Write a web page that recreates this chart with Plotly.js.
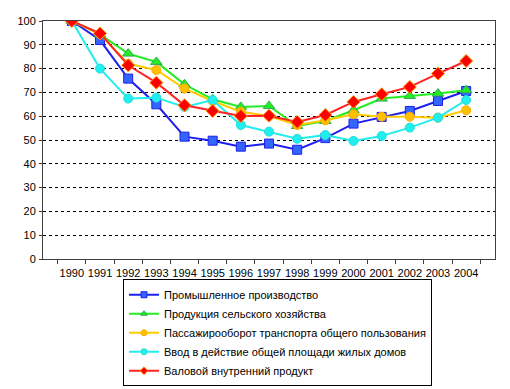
<!DOCTYPE html>
<html><head><meta charset="utf-8">
<script src="https://cdn.plot.ly/plotly-3.0.1.min.js"></script>
<style>body{margin:0;background:#fff}#chart{width:510px;height:389px}</style>
</head><body><div id="chart"></div>
<script>
const years = ['1990','1991','1992','1993','1994','1995','1996','1997','1998','1999','2000','2001','2002','2003','2004'];
const industry = [100,92,75.8,65,51.4,49.7,47.2,48.5,45.9,50.8,56.9,59.7,62.2,66.4,70.6];
const agriculture = [100,94.4,86.3,82.8,73.4,67.1,63.9,64.3,55.9,58,62.5,67.4,68.5,69.5,70.9];
const passenger = [100,94.5,82,79.4,71.6,66.4,61.9,60.1,56.3,58.3,60.8,59.8,59.8,59.4,62.5];
const housing = [100,80,67.4,67.8,63.9,66.8,56.3,53.5,50.5,52.1,49.6,51.7,55.2,59.4,66.8];
const gdp = [100,94.8,81.4,74.1,64.6,62.2,60.1,60.2,57.6,60.5,66,69.2,72.3,77.9,83.2];
const names = ['Промышленное производство','Продукция сельского хозяйства','Пассажирооборот транспорта общего пользования','Ввод в действие общей площади жилых домов','Валовой внутренний продукт'];

const styles = [
  {lc: '#1f1fee', sym: 'square', fc: '#3366ff', mlc: '#1f1fee', size: 9},
  {lc: '#22ee22', sym: 'triangle-up', fc: '#22ee22', mlc: '#33aa55', size: 10},
  {lc: '#ffcc00', sym: 'circle', fc: '#ffc000', mlc: '#ffaa00', size: 9},
  {lc: '#22eeee', sym: 'circle', fc: '#22eeee', mlc: '#22dddd', size: 9},
  {lc: '#ff2222', sym: 'diamond', fc: '#ff0000', mlc: '#ff9900', size: 10}
];
const series = [industry, agriculture, passenger, housing, gdp];
const data = [];
series.forEach((y, i) => {
  const s = styles[i];
  data.push({x: years, y: y, name: names[i], type: 'scatter', mode: 'lines+markers', showlegend: false,
    line: {color: s.lc, width: 2},
    marker: {symbol: s.sym, size: s.size, color: s.fc, line: {color: s.mlc, width: 1}}});
});
series.forEach((y, i) => {
  const s = styles[i];
  data.push({x: [years[0]], y: [null], name: names[i], type: 'scatter', mode: 'lines+markers', showlegend: true,
    line: {color: s.lc, width: 2},
    marker: {symbol: s.sym, size: 6, color: s.fc, line: {color: s.mlc, width: 1}}});
});
const layout = {
  width: 510, height: 389,
  margin: {l: 43, r: 15, t: 21, b: 130, autoexpand: false},
  paper_bgcolor: '#fff', plot_bgcolor: '#fff',
  font: {family: 'Liberation Sans, Arial, sans-serif', size: 11, color: '#000'},
  showlegend: true,
  legend: {x: 0.177, y: -0.085, xanchor: 'left', yanchor: 'top', bordercolor: '#000', borderwidth: 1,
    font: {size: 11}, tracegroupgap: 0, itemwidth: 30, traceorder: 'normal'},
  xaxis: {type: 'category', showline: true, linecolor: '#404040', linewidth: 1, mirror: true,
    ticks: 'outside', tickson: 'boundaries', ticklen: 4, tickcolor: '#404040', ticklabelstandoff: 4,
    showgrid: false, zeroline: false, tickangle: 0, automargin: false, tickfont: {size: 11}},
  yaxis: {range: [0, 100], dtick: 10, showline: true, linecolor: '#404040', linewidth: 1, mirror: true,
    ticks: 'outside', ticklen: 3, tickcolor: '#404040', ticklabelstandoff: 1,
    showgrid: true, gridcolor: '#000', griddash: '3px,3px', gridwidth: 1, zeroline: false,
    automargin: false, tickfont: {size: 11}}
};
Plotly.newPlot('chart', data, layout, {displayModeBar: false, staticPlot: true});
</script></body></html>
